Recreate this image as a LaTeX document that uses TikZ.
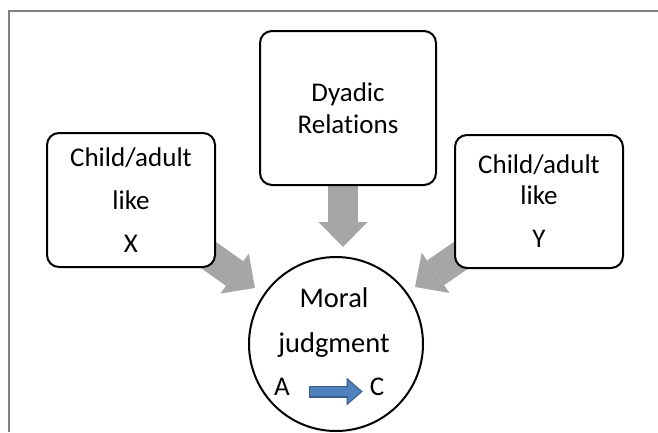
\documentclass[tikz,border=0pt]{standalone}
\usepackage{fontspec}
\setmainfont{Carlito}[Ligatures=NoCommon]
\usetikzlibrary{arrows.meta,backgrounds}

\definecolor{framegray}{RGB}{128,128,128}
\definecolor{arrowgray}{RGB}{166,166,166}
\definecolor{blueA}{RGB}{79,129,189}
\definecolor{blueD}{RGB}{56,93,138}

\begin{document}
\begin{tikzpicture}[x=1pt, y=-1pt,
    box/.style={draw, line width=2pt, rounded corners=12pt, fill=white,
      align=center, inner sep=0pt},
    txt/.style={font=\fontsize{27}{#1}\selectfont},
    grayarr/.style={arrowgray, line width=30pt,
      -{Triangle[length=25pt, width=49pt, line width=0pt]}}]
    \useasboundingbox (0,0) rectangle (658,432);
    \draw[framegray, line width=2pt] (9,432) -- (9,11) -- (658,11);

    \node[box, txt=43, minimum width=168pt, minimum height=134pt] (xbox) at (131,200)
      {Child/adult\\like\\X};
    \node[box, txt=32, minimum width=176pt, minimum height=154pt] (dbox) at (348,108)
      {Dyadic\\Relations};
    \node[box, txt=31, minimum width=168pt, minimum height=133pt] (ybox) at (539,201.5)
      {Child/adult\\like\\[12pt]Y};

    \node[circle, draw, line width=2pt, fill=white, minimum size=174pt, inner sep=0pt]
      (moral) at (336,344) {};
    \node[font=\fontsize{28.5}{45}\selectfont, align=center] (mtext) at (334,322.5)
      {Moral\\judgment};
    \node[txt=27, inner sep=0pt] (a) at (282,387) {A};
    \node[txt=27, inner sep=0pt] (c) at (377,387) {C};

    \coordinate (xtip) at (255,288);
    \coordinate (dtip) at (343,247);
    \coordinate (ytip) at (415,287);

    \begin{scope}[on background layer]
      \draw[grayarr] (xbox.center) -- (xtip);
      \draw[grayarr] (dbox.south -| dtip) -- (dtip);
      \draw[grayarr] (ybox.center) -- (ytip);
    \end{scope}

    % A -> C
    \draw[blueD, line width=12pt, shorten <=19pt, shorten >=7pt,
      -{Triangle[length=16pt, width=28pt, line width=0pt]}]
      ([yshift=-4.5pt]a.east) -- ([yshift=-4.5pt]c.west);
    \draw[blueA, line width=9.5pt, shorten <=20.3pt, shorten >=8.9pt,
      -{Triangle[length=12.8pt, width=22.5pt, line width=0pt]}]
      ([yshift=-4.5pt]a.east) -- ([yshift=-4.5pt]c.west);
\end{tikzpicture}
\end{document}
